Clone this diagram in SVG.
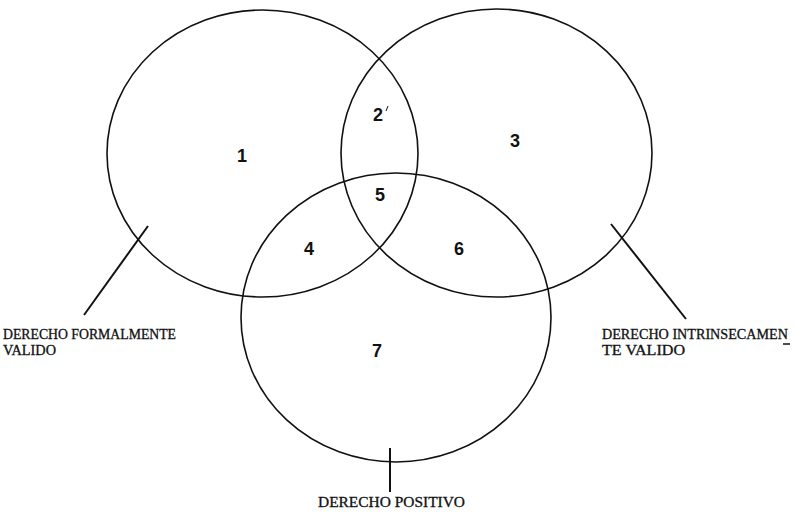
<svg xmlns="http://www.w3.org/2000/svg" width="796" height="512" viewBox="0 0 796 512">
<style>
.set{fill:none;stroke:#111;stroke-width:1.6}
.ptr{stroke:#111;stroke-width:2;fill:none}
.num{font-family:"Liberation Sans",Arial,sans-serif;font-weight:bold;font-size:18px;fill:#111;text-anchor:middle}
.lbl{font-family:"Liberation Serif","Times New Roman",serif;font-size:14px;fill:#111;stroke:#111;stroke-width:0.3}
</style>
<rect width="796" height="512" fill="#fff"/>
<g id="set-formal">
<ellipse class="set" cx="262.5" cy="153.5" rx="155.5" ry="143.5"/>
<text class="lbl" x="3" y="339" textLength="173" lengthAdjust="spacingAndGlyphs">DERECHO FORMALMENTE</text>
<text class="lbl" x="3" y="355" textLength="53" lengthAdjust="spacingAndGlyphs">VALIDO</text>
</g>
<g id="set-intrinseco">
<ellipse class="set" cx="496.5" cy="153" rx="155.5" ry="144"/>
<text class="lbl" x="602" y="339" textLength="186" lengthAdjust="spacingAndGlyphs">DERECHO INTRINSECAMEN</text>
<text class="lbl" x="602" y="355" textLength="83" lengthAdjust="spacingAndGlyphs">TE VALIDO</text>
<line x1="783" y1="344" x2="790" y2="344" stroke="#111" stroke-width="1.5"/>
</g>
<g id="set-positivo">
<ellipse class="set" cx="396" cy="317.5" rx="155" ry="144.5"/>
<text class="lbl" x="318" y="507" textLength="147" lengthAdjust="spacingAndGlyphs">DERECHO POSITIVO</text>
</g>
<g id="regions">
<text class="num" x="242" y="162">1</text>
<text class="num" x="378" y="121">2</text>
<line x1="388" y1="106" x2="386" y2="111" stroke="#111" stroke-width="1"/>
<text class="num" x="515" y="147">3</text>
<text class="num" x="309" y="255">4</text>
<text class="num" x="380" y="201">5</text>
<text class="num" x="459" y="255">6</text>
<text class="num" x="377" y="357">7</text>
</g>
<g id="connectors">
<line class="ptr" x1="148" y1="226" x2="84" y2="315"/>
<line class="ptr" x1="611" y1="224" x2="686" y2="319"/>
<line class="ptr" x1="390" y1="448" x2="390" y2="492"/>
</g>
</svg>
